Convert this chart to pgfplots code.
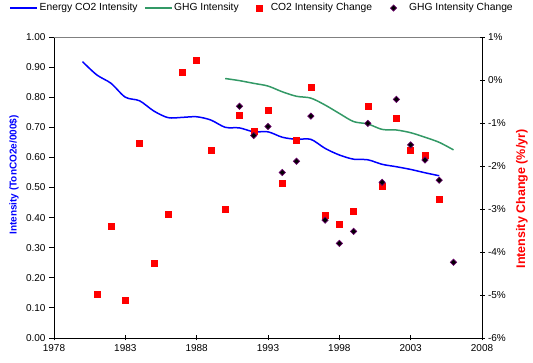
\documentclass[border=0pt]{standalone}
\usepackage{fontspec}
\setmainfont{Liberation Sans}
\usepackage{pgfplots}
\pgfplotsset{compat=1.18}
\definecolor{ghg}{RGB}{51,153,102}
\definecolor{purp}{RGB}{102,0,102}
\pgfplotsset{
  linelegend/.style={legend image code/.code={\draw[##1] (0pt,0pt) -- (27pt,0pt);}},
  sqlegend/.style={legend image code/.code={\path[draw=none,fill=none] (0pt,0pt) -- (24pt,0pt); \draw[##1, only marks] plot coordinates {(14pt,0pt)};}},
  dialegend/.style={legend image code/.code={\path[draw=none,fill=none] (0pt,0pt) -- (29pt,0pt); \draw[##1, only marks] plot coordinates {(15pt,0pt)};}},
}
\begin{document}
\begin{tikzpicture}[x=1pt,y=1pt]
\path[use as bounding box] (-54,-25) rectangle (479,338);
\begin{axis}[
  at={(0,0)}, anchor=south west,
  scale only axis, width=428pt, height=301pt,
  xmin=1978, xmax=2008, ymin=0, ymax=1,
  axis x line*=bottom, axis y line*=left,
  axis line style={black, line width=0.8pt},
  xtick={1978,1983,1988,1993,1998,2003,2008},
  xticklabels={1978,1983,1988,1993,1998,2003,2008},
  ytick={0,0.1,0.2,0.3,0.4,0.5,0.6,0.7,0.8,0.9,1},
  yticklabels={0.00,0.10,0.20,0.30,0.40,0.50,0.60,0.70,0.80,0.90,1.00},
  x tick style={black, line width=0.8pt}, y tick style={black, line width=0.8pt},
  xtick align=center, ytick align=outside,
  major tick length=5pt,
  tick label style={font=\fontsize{10}{12}\selectfont},
  ylabel={Intensity (TonCO2e/000\$)},
  y label style={at={(axis description cs:-0.0935,0.5415)}, anchor=center, font=\fontsize{10}{12}\selectfont\bfseries, color=blue},
  clip=false,
]
\draw[gray, line width=0.8pt] (rel axis cs:0,1) -- (rel axis cs:1,1);
\addplot[blue, line width=1.5pt, smooth, no marks] coordinates {
(1980,0.918) (1981,0.874) (1982,0.846) (1983,0.800) (1984,0.788) (1985,0.754)
(1986,0.732) (1987,0.733) (1988,0.735) (1989,0.724) (1990,0.700) (1991,0.698)
(1992,0.685) (1993,0.685) (1994,0.667) (1995,0.660) (1996,0.660) (1997,0.630)
(1998,0.608) (1999,0.594) (2000,0.592) (2001,0.577) (2002,0.569) (2003,0.560)
(2004,0.549) (2005,0.539)};
\addplot[ghg, line width=1.5pt, smooth, no marks] coordinates {
(1990,0.862) (1991,0.855) (1992,0.846) (1993,0.837) (1994,0.818) (1995,0.803)
(1996,0.797) (1997,0.774) (1998,0.746) (1999,0.719) (2000,0.711) (2001,0.693)
(2002,0.691) (2003,0.682) (2004,0.667) (2005,0.650) (2006,0.625)};
\end{axis}
\begin{axis}[
  at={(0,0)}, anchor=south west,
  scale only axis, width=428pt, height=301pt,
  xmin=1978, xmax=2008, ymin=-6, ymax=1,
  axis x line=none, axis y line*=right,
  axis line style={black, line width=0.8pt},
  ytick={-6,-5,-4,-3,-2,-1,0,1},
  yticklabels={-6\%,-5\%,-4\%,-3\%,-2\%,-1\%,0\%,1\%},
  y tick style={black, line width=0.8pt},
  ytick align=center, major tick length=5pt,
  tick label style={font=\fontsize{10}{12}\selectfont},
  ylabel={Intensity Change (\%/yr)},
  y label style={at={(axis description cs:1.0935,0.462)}, anchor=center, rotate=0, font=\fontsize{12.5}{14}\selectfont\bfseries, color=red},
  clip=false,
  legend columns=4,
  legend style={at={(axis description cs:-0.104,1.0963)}, anchor=west, draw=none, fill=none,
    font=\fontsize{10.3}{12}\selectfont, inner sep=0pt,
    nodes={inner xsep=1.5pt, inner ysep=1pt},
    /tikz/every even column/.append style={column sep=5pt}},
]
\addlegendimage{blue, line width=1.5pt, linelegend}
\addlegendentry{Energy CO2 Intensity}
\addlegendimage{ghg, line width=1.5pt, linelegend}
\addlegendentry{GHG Intensity}
\addplot[only marks, mark=square*, mark size=3pt, color=red, fill=red, sqlegend] coordinates {
(1981,-4.97) (1982,-3.39) (1983,-5.13) (1984,-1.46) (1985,-4.27) (1986,-3.13)
(1987,0.17) (1988,0.47) (1989,-1.64) (1990,-3.00) (1991,-0.81) (1992,-1.18)
(1993,-0.71) (1994,-2.41) (1995,-1.41) (1996,-0.16) (1997,-3.14) (1998,-3.36)
(1999,-3.04) (2000,-0.62) (2001,-2.46) (2002,-0.88) (2003,-1.63) (2004,-1.74)
(2005,-2.78)};
\addlegendentry{CO2 Intensity Change}
\addplot[only marks, mark=square*, mark size=2.2pt, mark options={rotate=45, draw=purp, fill=black, line width=0.7pt}, dialegend] coordinates {
(1991,-0.61) (1992,-1.29) (1993,-1.08) (1994,-2.15) (1995,-1.89) (1996,-0.84)
(1997,-3.26) (1998,-3.80) (1999,-3.52) (2000,-1.01) (2001,-2.38) (2002,-0.45)
(2003,-1.51) (2004,-1.86) (2005,-2.33) (2006,-4.24)};
\addlegendentry{GHG Intensity Change}
\end{axis}
\end{tikzpicture}
\end{document}
